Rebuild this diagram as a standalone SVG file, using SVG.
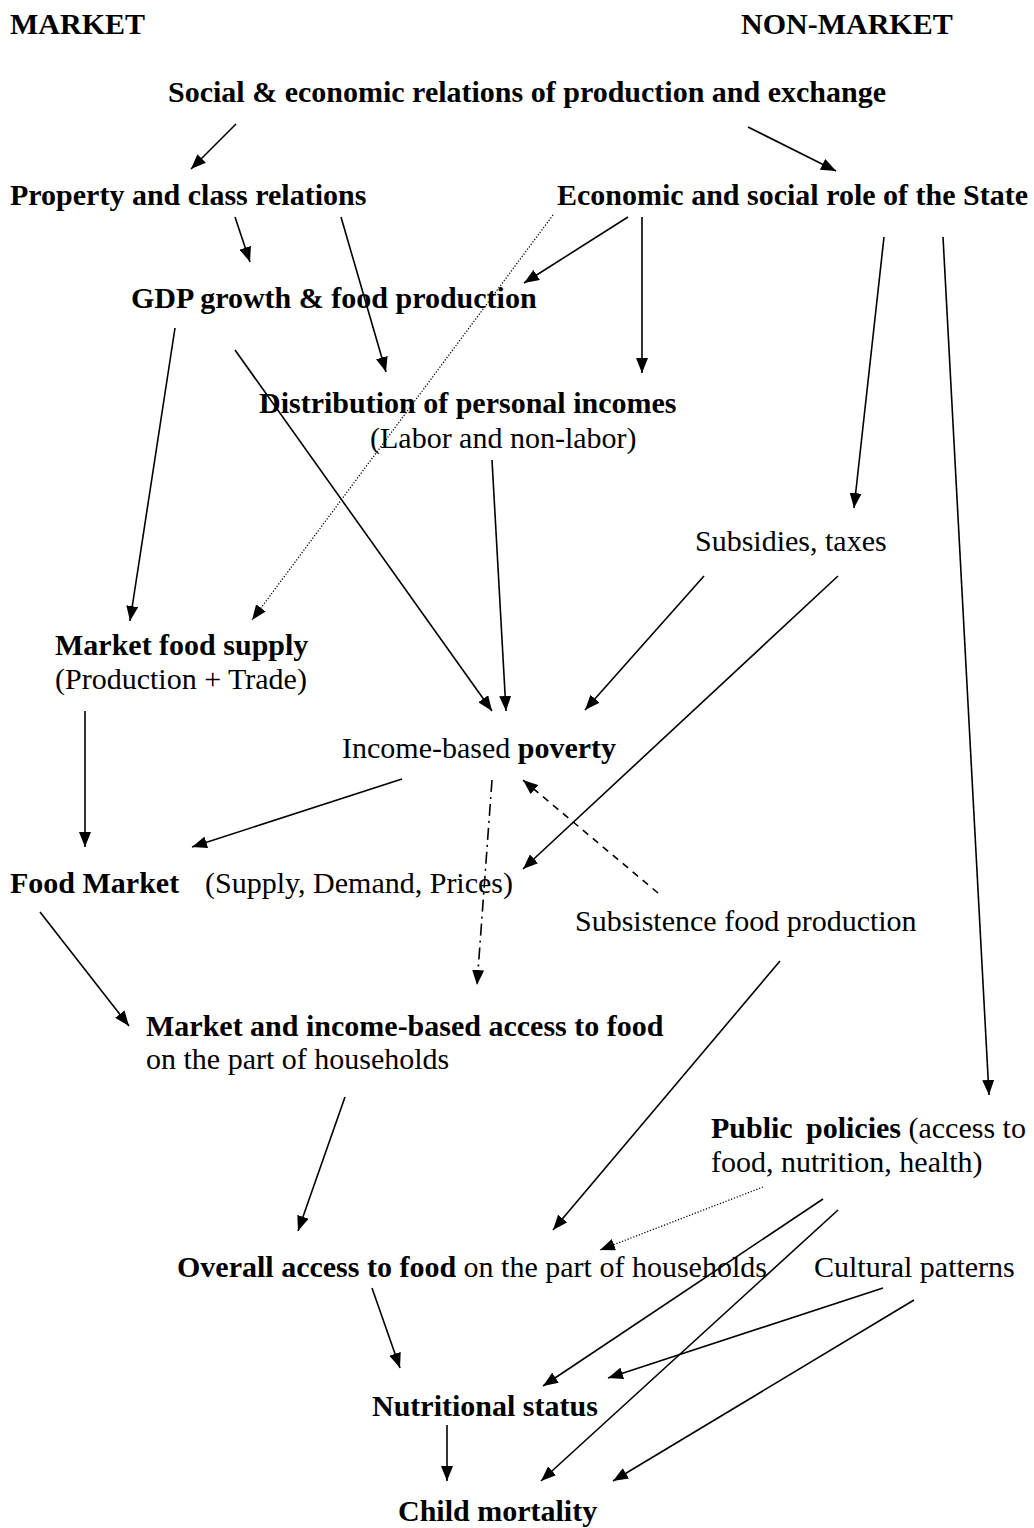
<svg xmlns="http://www.w3.org/2000/svg" width="1034" height="1528" viewBox="0 0 1034 1528">
<style>
text{font-family:"Liberation Serif","Times New Roman",serif;font-size:30px;fill:#000}
.b{font-weight:bold}
.c line{stroke:#000;stroke-width:1.6;fill:none}
.c line.a{marker-end:url(#ah)}
.c line.dot{stroke-width:1.3;stroke-dasharray:1.2 1.8}
.c line.dash{stroke-dasharray:7 6}
.c line.dd{stroke-dasharray:12 5 2 5}
</style>
<defs>
<marker id="ah" markerUnits="userSpaceOnUse" markerWidth="16" markerHeight="12" refX="15" refY="6" orient="auto">
<path d="M0,0 L15,6 L0,12 z" fill="#000"/>
</marker>
</defs>
<rect width="1034" height="1528" fill="#fff"/>
<g id="market-label"><text class="b" x="10" y="34">MARKET</text></g>
<g id="nonmarket-label"><text class="b" x="741" y="34">NON-MARKET</text></g>
<g id="social"><text class="b" x="168" y="102">Social &amp; economic relations of production and exchange</text></g>
<g id="property"><text class="b" x="10" y="205">Property and class relations</text></g>
<g id="state"><text class="b" x="557" y="205">Economic and social role of the State</text></g>
<g id="gdp"><text class="b" x="131" y="308">GDP growth &amp; food production</text></g>
<g id="distribution"><text class="b" x="259" y="413">Distribution of personal incomes</text><text x="370" y="448">(Labor and non-labor)</text></g>
<g id="subsidies"><text x="695" y="551">Subsidies, taxes</text></g>
<g id="supply"><text class="b" x="55" y="655">Market food supply</text><text x="55" y="689">(Production + Trade)</text></g>
<g id="poverty"><text x="342" y="758">Income-based <tspan class="b">poverty</tspan></text></g>
<g id="foodmarket"><text x="10" y="893"><tspan class="b">Food Market</tspan><tspan x="205">(Supply, Demand, Prices)</tspan></text></g>
<g id="subsistence"><text x="575" y="931">Subsistence food production</text></g>
<g id="marketaccess"><text class="b" x="146" y="1036">Market and income-based access to food</text><text x="146" y="1069">on the part of households</text></g>
<g id="public"><text x="711" y="1138"><tspan class="b">Public</tspan><tspan class="b" x="806">policies</tspan> (access to</text><text x="711" y="1172">food, nutrition, health)</text></g>
<g id="overall"><text x="177" y="1277"><tspan class="b">Overall access to food</tspan> on the part of households</text></g>
<g id="cultural"><text x="814" y="1277">Cultural patterns</text></g>
<g id="nutrition"><text class="b" x="372" y="1416">Nutritional status</text></g>
<g id="mortality"><text class="b" x="398" y="1521">Child mortality</text></g>
<g class="c" id="connectors">
<line class="a" x1="236" y1="124" x2="191" y2="169"/>
<line class="a" x1="748" y1="127" x2="836" y2="171"/>
<line class="a" x1="235" y1="217" x2="250" y2="262"/>
<line class="a" x1="341" y1="217" x2="386" y2="372"/>
<line class="a" x1="628" y1="217" x2="524" y2="283"/>
<line class="a" x1="642" y1="217" x2="642" y2="373"/>
<line class="a dot" x1="553" y1="215" x2="252" y2="620"/>
<line class="a" x1="884" y1="237" x2="854" y2="508"/>
<line class="a" x1="943" y1="237" x2="989" y2="1095"/>
<line class="a" x1="175" y1="328" x2="130" y2="621"/>
<line class="a" x1="235" y1="350" x2="492" y2="711"/>
<line class="a" x1="492" y1="460" x2="506" y2="711"/>
<line class="a" x1="704" y1="576" x2="585" y2="710"/>
<line class="a" x1="838" y1="576" x2="523" y2="869"/>
<line class="a" x1="85" y1="711" x2="85" y2="847"/>
<line class="a" x1="402" y1="779" x2="192" y2="847"/>
<line class="a dd" x1="492" y1="780" x2="477" y2="985"/>
<line class="a dash" x1="658" y1="893" x2="523" y2="780"/>
<line class="a" x1="40" y1="912" x2="129" y2="1026"/>
<line class="a" x1="780" y1="961" x2="553" y2="1230"/>
<line class="a" x1="345" y1="1097" x2="298" y2="1231"/>
<line class="a dot" x1="763" y1="1187" x2="600" y2="1250"/>
<line class="a" x1="823" y1="1199" x2="543" y2="1386"/>
<line class="a" x1="838" y1="1210" x2="541" y2="1481"/>
<line class="a" x1="883" y1="1288" x2="608" y2="1378"/>
<line class="a" x1="914" y1="1300" x2="613" y2="1481"/>
<line class="a" x1="372" y1="1288" x2="400" y2="1368"/>
<line class="a" x1="447" y1="1425" x2="447" y2="1481"/>
</g>
</svg>
